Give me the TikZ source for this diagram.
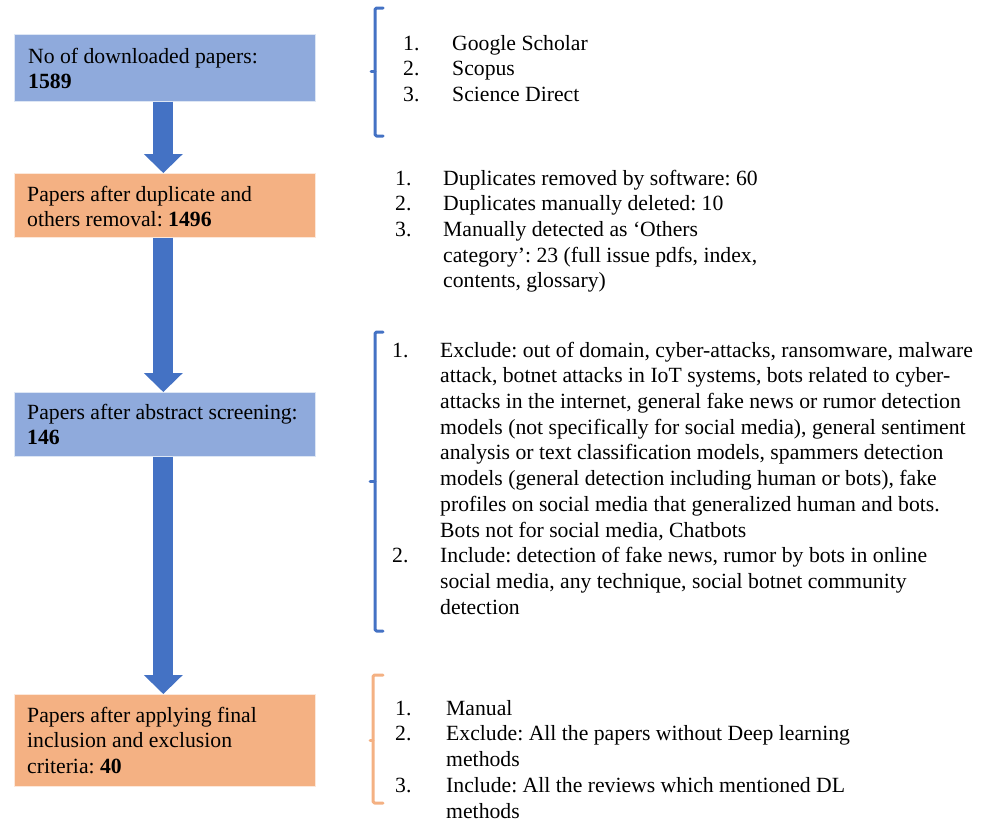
\documentclass[tikz,border=0pt]{standalone}
\usepackage{fontspec}
\setmainfont{Liberation Serif}
\usetikzlibrary{arrows.meta}
\definecolor{boxblue}{HTML}{8FAADC}
\definecolor{boxorange}{HTML}{F4B183}
\definecolor{arrowblue}{HTML}{4472C4}
\newcommand{\mytxt}{\fontsize{21.7}{25.7}\selectfont\frenchspacing}
\tikzset{
  box/.style={anchor=north west, inner sep=0pt, minimum width=301pt, draw=white!70!#1, line width=0.6pt, fill=#1},
  boxtext/.style={anchor=north west, inner sep=0pt, align=left, font=\mytxt},
  listtext/.style={anchor=north west, inner sep=0pt, font=\mytxt},
  flowarrow/.style={line width=20pt, arrowblue, -{Triangle[length=19pt, width=39pt, line width=0pt]}},
  bracketline/.style={line width=3pt, line cap=round, line join=round, rounded corners=1.5pt, #1}
}
\begin{document}
\begin{tikzpicture}[x=1pt, y=-1pt]
\useasboundingbox (0,0) rectangle (988,822);
% boxes
\node[box=boxblue, minimum height=67pt] (b1) at (14,34) {};
\node[box=boxorange, minimum height=64pt] (b2) at (14,173) {};
\node[box=boxblue, minimum height=64pt] (b3) at (14,392) {};
\node[box=boxorange, minimum height=92pt] (b4) at (14,694) {};
% box texts
\node[boxtext] (t1) at (28,45) {\strut No of downloaded papers:\\[-0.7pt]\textbf{1589}};
\node[boxtext] (t2) at (27,183) {\strut Papers after duplicate and\\others removal: \textbf{1496}};
\node[boxtext] (t3) at (27,401) {\strut Papers after abstract screening:\\\textbf{146}};
\node[boxtext] (t4) at (27,704) {\strut Papers after applying final\\inclusion and exclusion\\criteria: \textbf{40}};
% arrows
\draw[flowarrow] ([xshift=-1.5pt]b1.south) -- ([xshift=-1.5pt]b2.north);
\draw[flowarrow] ([xshift=-1.5pt]b2.south) -- ([xshift=-1.5pt]b3.north);
\draw[flowarrow] ([xshift=-1.5pt]b3.south) -- ([xshift=-1.5pt]b4.north);
% lists
\node[listtext] (l1) at (403,32) {\begin{tabular}{@{}p{49pt}@{}l@{}}
1. & Google Scholar\\
2. & Scopus\\
3. & Science Direct
\end{tabular}};
\node[listtext] (l2) at (395,167) {\begin{tabular}{@{}p{48pt}@{}l@{}}
1. & Duplicates removed by software: 60\\
2. & Duplicates manually deleted: 10\\
3. & Manually detected as `Others\\
 & category': 23 (full issue pdfs, index,\\
 & contents, glossary)
\end{tabular}};
\node[listtext] (l3) at (392,339) {\begin{tabular}{@{}p{48pt}@{}l@{}}
1. & Exclude: out of domain, cyber-attacks, ransomware, malware\\
 & attack, botnet attacks in IoT systems, bots related to cyber-\\
 & attacks in the internet, general fake news or rumor detection\\
 & models (not specifically for social media), general sentiment\\
 & analysis or text classification models, spammers detection\\
 & models (general detection including human or bots), fake\\
 & profiles on social media that generalized human and bots.\\
 & Bots not for social media, Chatbots\\
2. & Include: detection of fake news, rumor by bots in online\\
 & social media, any technique, social botnet community\\
 & detection
\end{tabular}};
\node[listtext] (l4) at (395,697) {\begin{tabular}{@{}p{51pt}@{}l@{}}
1. & Manual\\
2. & Exclude: All the papers without Deep learning\\
 & methods\\
3. & Include: All the reviews which mentioned DL\\
 & methods
\end{tabular}};
% brackets
\draw[bracketline=arrowblue] (383,8) -- (375,8) -- (375,136) -- (383,136);
\draw[bracketline=arrowblue] (375,71) -- (371,71);
\draw[bracketline=arrowblue] (383,332) -- (375,332) -- (375,631) -- (383,631);
\draw[bracketline=arrowblue] (375,481) -- (370,481);
\draw[bracketline=boxorange] (383,675) -- (373,675) -- (373,803) -- (383,803);
\draw[bracketline=boxorange] (373,740) -- (370,740);
\end{tikzpicture}
\end{document}
